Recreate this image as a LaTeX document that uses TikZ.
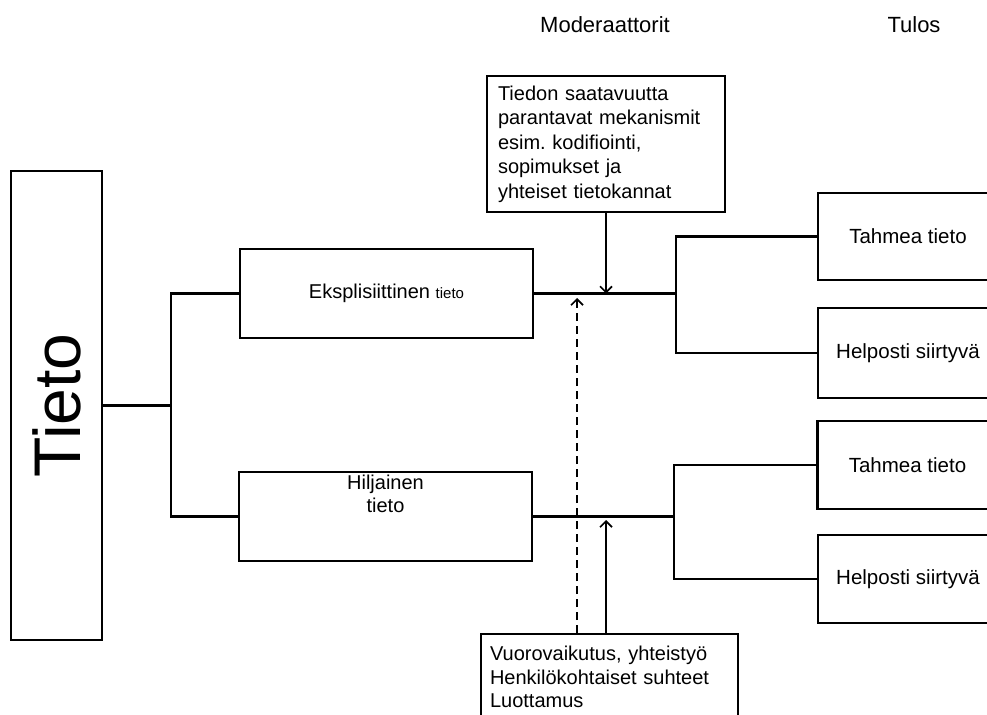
\documentclass[tikz,border=0pt]{standalone}
\usepackage{fontspec}
\setmainfont{Liberation Sans}
\usetikzlibrary{arrows.meta}
\begin{document}
\frenchspacing
\begin{tikzpicture}[x=1bp,y=-1bp,
  box/.style={draw=black,line width=2.1bp,rectangle,inner sep=0pt},
  txt/.style={font=\fontsize{20bp}{24.5bp}\selectfont},
  heading/.style={font=\fontsize{22bp}{26bp}\selectfont},
  link/.style={line width=2.1bp},
  feed/.style={line width=1.7bp,-{Straight Barb[length=6bp,width=12bp,line width=1.7bp]}},
  outcome/.style={box,font=\fontsize{20.5bp}{24bp}\selectfont,minimum width=180bp},
]
\useasboundingbox (0,0) rectangle (987,715);
\clip (0,0) rectangle (987,715);

% column headings
\node[heading] (hmod) at (605,25) {Moderaattorit};
\node[heading] (htul) at (914,25) {Tulos};

% root
\node[box,rotate=90,minimum width=469bp,minimum height=91bp,
      font=\fontsize{66bp}{72bp}\selectfont] (tieto) at (56.5,405.5) {Tieto};

% knowledge types
\node[box,txt,minimum width=293bp,minimum height=89bp] (eks) at (386.5,293.5)
  {Eksplisiittinen {\fontsize{15bp}{18bp}\selectfont tieto}};
\node[box,minimum width=293bp,minimum height=89bp] (hil) at (385.5,516.5) {};
\node[align=center,anchor=north,inner sep=0pt,
      font=\fontsize{20bp}{23bp}\selectfont] (hiltxt) at ([yshift=-3.5bp]hil.north)
  {Hiljainen\\tieto};

% outcomes
\node[outcome,minimum height=87bp] (t1) at (908,236.5) {Tahmea tieto};
\node[outcome,minimum height=90bp] (h1) at (908,353) {Helposti siirtyvä};
\node[outcome,minimum height=88bp] (t2) at (907.5,465) {Tahmea tieto};
\node[outcome,minimum height=88bp] (h2) at (908,579) {Helposti siirtyvä};

% moderators
\node[box,txt,align=left,text width=216bp,inner xsep=11bp,inner ysep=8bp,
      minimum height=136bp] (mod1) at (606,144)
  {Tiedon saatavuutta\\parantavat mekanismit\\esim. kodifiointi,\\sopimukset ja\\yhteiset tietokannat};
\node[box,align=left,text width=239bp,inner xsep=9bp,inner ysep=12bp,anchor=north west,
      font=\fontsize{20bp}{23.5bp}\selectfont] (mod2) at (480,633)
  {Vuorovaikutus, yhteistyö\\Henkilökohtaiset suhteet\\Luottamus};

% tree connectors
\coordinate (j) at (171,405.5);
\draw[link] (tieto.south) -- (j);
\draw[link] (eks.west) -| (j) |- (hil.west);

\coordinate (k1) at (676,293.5);
\draw[link] (eks.east) -- (k1);
\draw[link] (t1.west) -| (k1) |- (h1.west);

\coordinate (k2) at (674,516.5);
\draw[link] (hil.east) -- (k2);
\draw[link] (t2.west) -| (k2) |- (h2.west);

% moderator arrows
\draw[feed] (mod1.south) -- (mod1.south |- eks.east);
\coordinate (up) at (606,520);
\draw[feed] (mod2.north -| up) -- (up);
\coordinate (dsh) at (577,298);
\draw[feed,dash pattern=on 8bp off 5bp] (mod2.north -| dsh) -- (dsh);
\end{tikzpicture}
\end{document}
